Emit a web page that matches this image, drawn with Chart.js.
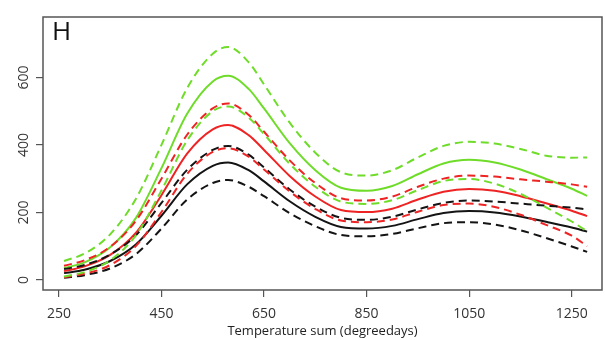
<!DOCTYPE html>
<html>
<head>
<meta charset="UTF-8">
<title>Temperature sum</title>
<script src="https://cdn.jsdelivr.net/npm/chart.js@4.4.1/dist/chart.umd.min.js"></script>
<style>
  body { margin: 0; background: #fff; }
</style>
</head>
<body>
<canvas id="myChart" width="605" height="340"></canvas>

<script>
  // temperature sums (degreedays) where the curves were read
  var xValues = [260, 300, 350, 400, 450, 500, 550, 580, 620, 650, 700, 750, 800, 850, 900, 950, 1000, 1050, 1100, 1150, 1200, 1250, 1280];

  // green
  var greenUpper = [56, 78, 135, 240, 400, 568, 670, 690, 645, 579, 466, 377, 319, 309, 325, 363, 397, 409, 404, 388, 368, 362, 363];
  var greenMid   = [35, 52, 97, 183, 331, 492, 588, 605, 566, 508, 405, 325, 273, 264, 278, 313, 345, 356, 348, 327, 299, 270, 249];
  var greenLower = [10, 23, 58, 132, 265, 413, 500, 514, 481, 432, 344, 276, 232, 225, 236, 266, 293, 299, 285, 255, 215, 173, 144];

  // red
  var redUpper = [42, 58, 98, 175, 300, 430, 508, 523, 489, 439, 354, 287, 242, 235, 247, 276, 300, 309, 306, 298, 291, 283, 276];
  var redMid   = [26, 40, 74, 139, 251, 374, 446, 459, 429, 385, 308, 247, 207, 201, 211, 238, 261, 269, 264, 248, 227, 205, 189];
  var redLower = [8, 18, 44, 100, 201, 314, 379, 390, 365, 327, 262, 210, 176, 171, 179, 202, 222, 226, 216, 193, 163, 131, 100];

  // black
  var blackUpper = [32, 44, 75, 132, 228, 326, 385, 397, 371, 333, 268, 217, 184, 178, 187, 209, 228, 235, 232, 226, 220, 214, 209];
  var blackMid   = [20, 30, 56, 105, 190, 283, 338, 348, 325, 292, 233, 187, 157, 152, 160, 180, 198, 204, 200, 188, 172, 155, 143];
  var blackLower = [6, 14, 34, 76, 152, 238, 287, 296, 276, 248, 198, 159, 133, 129, 136, 153, 168, 171, 164, 147, 124, 99, 83];

  var xTicks = [250, 450, 650, 850, 1050, 1250];
  var yTicks = [0, 200, 400, 600];

  var GREEN = "#6fdc2a", RED = "#ee2424", BLACK = "#141414";

  function pts(arr) {
    return arr.map(function(v, i) { return {x: xValues[i], y: v}; });
  }
  function line(arr, color, dashed) {
    return {
      data: pts(arr),
      borderColor: color,
      borderWidth: 2,
      borderDash: dashed ? [8, 5] : [],
      pointRadius: 0,
      fill: false,
      cubicInterpolationMode: "monotone"
    };
  }

  // box round the plot area + panel letter
  var boxPlugin = {
    id: "box",
    afterDraw: function(chart) {
      var a = chart.chartArea, ctx = chart.ctx;
      ctx.save();
      ctx.strokeStyle = "#555";
      ctx.lineWidth = 1.5;
      ctx.strokeRect(a.left, a.top, a.right - a.left, a.bottom - a.top);
      ctx.fillStyle = "#111";
      ctx.font = "26px 'Open Sans'";
      ctx.textBaseline = "top";
      ctx.fillText("H", a.left + 9, a.top + 3);
      ctx.restore();
    }
  };

  new Chart("myChart", {
    type: "line",
    data: {
      datasets: [
        line(greenUpper, GREEN, true),
        line(greenLower, GREEN, true),
        line(redUpper, RED, true),
        line(redLower, RED, true),
        line(blackUpper, BLACK, true),
        line(blackLower, BLACK, true),
        line(greenMid, GREEN, false),
        line(redMid, RED, false),
        line(blackMid, BLACK, false)
      ]
    },
    options: {
      responsive: false,
      animation: false,
      layout: {padding: {left: 0, top: 17, right: 3, bottom: 0}},
      plugins: {legend: {display: false}, tooltip: {enabled: false}},
      scales: {
        x: {
          type: "linear",
          min: 219, max: 1309,
          afterBuildTicks: function(s) { s.ticks = xTicks.map(function(v) { return {value: v}; }); },
          afterFit: function(s) { s.height = 50; },
          grid: {drawOnChartArea: false, drawTicks: true, tickLength: 7, color: "#555", lineWidth: 1.2},
          border: {display: false},
          ticks: {color: "#333", padding: 9, font: {family: "'Open Sans'", size: 14}, maxRotation: 0,
                  callback: function(v) { return String(v); }},
          title: {display: true, text: "Temperature sum (degreedays)", color: "#222",
                  font: {family: "'Open Sans'", size: 13}, padding: {top: 0, bottom: 1}}
        },
        y: {
          type: "linear",
          min: -30, max: 779,
          afterBuildTicks: function(s) { s.ticks = yTicks.map(function(v) { return {value: v}; }); },
          afterFit: function(s) { s.width = 43; },
          grid: {drawOnChartArea: false, drawTicks: true, tickLength: 7, color: "#555", lineWidth: 1.2},
          border: {display: false},
          ticks: {color: "#333", padding: 0, crossAlign: "center", minRotation: 90, maxRotation: 90,
                  font: {family: "'Open Sans'", size: 14},
                  callback: function(v) { return String(v); }}
        }
      }
    },
    plugins: [boxPlugin]
  });
</script>
</body>
</html>
